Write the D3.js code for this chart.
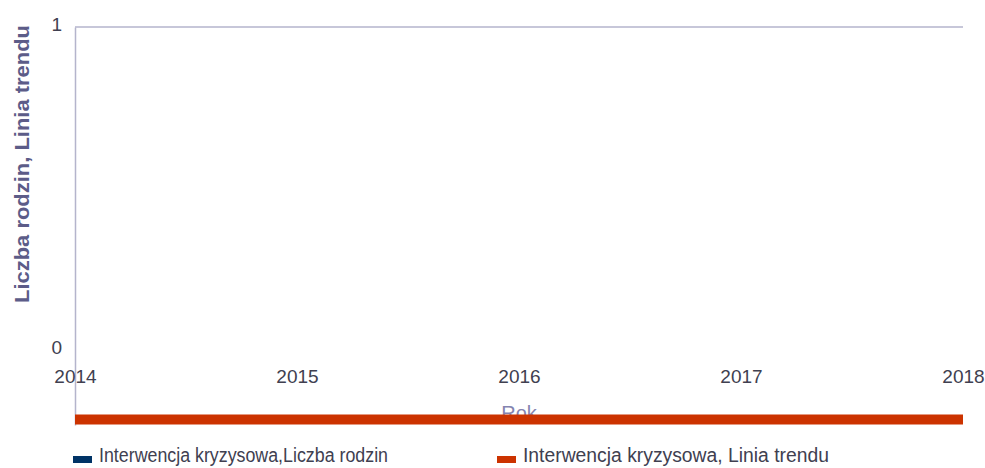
<!DOCTYPE html>
<html>
<head>
<meta charset="utf-8">
<script src="https://cdn.jsdelivr.net/npm/d3@7"></script>
<style>
  body { margin: 0; background: #fff; }
  text { font-family: "Liberation Sans", Arial, sans-serif; }
</style>
</head>
<body>
<div id="chart"></div>
<script>
const years = [2014, 2015, 2016, 2017, 2018];
const liczbaRodzin = [null, null, null, null, null];
const liniaTrendu = [-0.215, -0.215, -0.215, -0.215, -0.215];
const yTicks = [0, 1];
const seriesNames = ['Interwencja kryzysowa,Liczba rodzin', 'Interwencja kryzysowa, Linia trendu'];
const seriesColors = ['#003366', '#cc3300'];

const width = 985, height = 468;
const margin = {top: 27, right: 22, bottom: 43, left: 75};

const svg = d3.select('#chart').append('svg')
  .attr('width', width)
  .attr('height', height);

const x = d3.scaleLinear()
  .domain([2014, 2018])
  .range([margin.left, width - margin.right]);

const y = d3.scaleLinear()
  .domain([-0.232, 1])
  .range([height - margin.bottom, margin.top]);

// gridline at 1
svg.append('g')
  .selectAll('line')
  .data(yTicks.filter(d => d > 0))
  .enter().append('line')
  .attr('x1', x(2014)).attr('x2', x(2018))
  .attr('y1', d => y(d)).attr('y2', d => y(d))
  .attr('stroke', '#b4b4cc')
  .attr('stroke-width', 1.5);

// y axis
const yAxis = svg.append('g')
  .attr('transform', `translate(${x(2014)},0)`)
  .call(d3.axisLeft(y).tickValues(yTicks).tickFormat(d3.format('d')).tickSize(0).tickPadding(13));
yAxis.select('.domain').attr('stroke', '#b4b4cc').attr('stroke-width', 1.5);
yAxis.selectAll('text')
  .attr('fill', '#404050')
  .style('font-size', '19px')
  .attr('dy', '0.2em');

// x axis labels
const xAxis = svg.append('g')
  .attr('transform', `translate(0,${y(0)})`)
  .call(d3.axisBottom(x).tickValues(years).tickFormat(d3.format('d')).tickSize(0).tickPadding(19));
xAxis.select('.domain').remove();
xAxis.selectAll('text')
  .attr('fill', '#404050')
  .style('font-size', '19px');

// axis titles
svg.append('text')
  .attr('x', (x(2014) + x(2018)) / 2)
  .attr('y', 420)
  .attr('text-anchor', 'middle')
  .attr('fill', '#8484b0')
  .style('font-size', '20px')
  .text('Rok');

svg.append('text')
  .attr('transform', `translate(29,${(25 + 303) / 2}) rotate(-90)`)
  .attr('text-anchor', 'middle')
  .attr('fill', '#5c5c88')
  .style('font-size', '21px')
  .style('font-weight', 'bold')
  .attr('textLength', 278)
  .attr('lengthAdjust', 'spacingAndGlyphs')
  .text('Liczba rodzin, Linia trendu');

// series
const line = d3.line()
  .defined(d => d[1] !== null)
  .x(d => x(d[0]))
  .y(d => y(d[1]));

[liczbaRodzin, liniaTrendu].forEach((vals, i) => {
  svg.append('path')
    .datum(years.map((yr, j) => [yr, vals[j]]))
    .attr('fill', 'none')
    .attr('stroke', seriesColors[i])
    .attr('stroke-width', 10)
    .attr('d', line);
});

// legend
const legendX = [73, 497];
const legendW = [289, 306];
seriesNames.forEach((name, i) => {
  svg.append('rect')
    .attr('x', legendX[i]).attr('y', 456)
    .attr('width', 19).attr('height', 7)
    .attr('fill', seriesColors[i]);
  svg.append('text')
    .attr('x', legendX[i] + 26)
    .attr('y', 462)
    .attr('fill', '#404050')
    .style('font-size', '20px')
    .attr('textLength', legendW[i])
    .attr('lengthAdjust', 'spacingAndGlyphs')
    .text(name);
});
</script>
</body>
</html>
